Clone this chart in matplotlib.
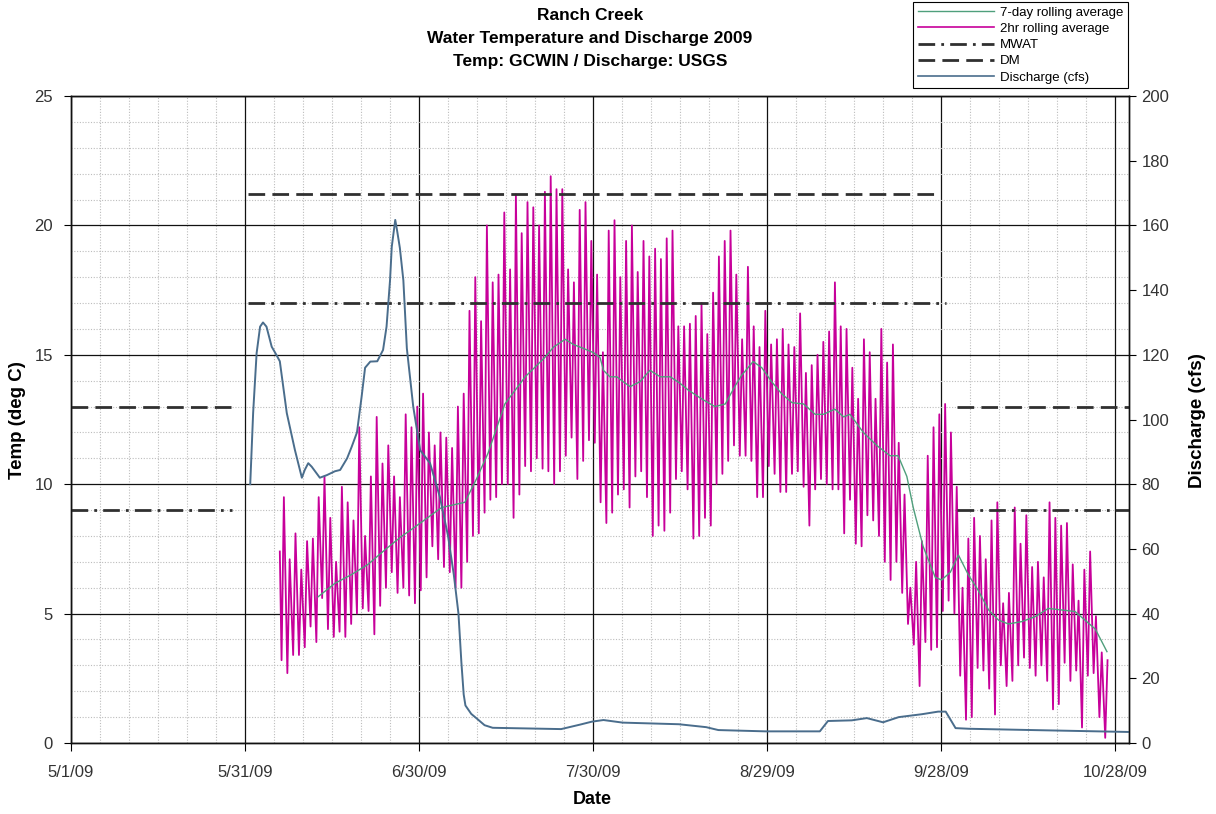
import numpy as np
import pandas as pd
import matplotlib
matplotlib.use('Agg')
import matplotlib.pyplot as plt
from matplotlib.lines import Line2D

plt.rcParams['font.family'] = ['Liberation Sans', 'DejaVu Sans']

base = pd.Timestamp('2009-05-01')

# 2hr rolling average, read as one morning low and one afternoon high per day from 6/6/09
first_day = 36  # days after 5/1/09
start_temp = 7.4
daily_low = [3.2, 2.7, 3.4, 3.4, 3.7, 4.5, 3.9, 5.6, 4.4, 4.1, 4.3, 4.1, 4.6, 5.0, 5.2, 5.1, 4.2, 5.3, 6.0, 6.6, 5.8, 6.0,
             5.7, 5.4, 5.9, 6.4, 7.6, 7.1, 6.8, 6.6, 6.0, 6.0, 7.0, 8.0, 8.1, 8.9, 9.4, 9.5, 10.0, 10.0, 8.7, 9.6, 10.7, 10.5, 11.0, 10.6,
             10.5, 10.0, 10.5, 11.1, 11.8, 10.2, 10.9, 11.7, 11.6, 9.3, 8.5, 8.9, 9.6, 9.8, 9.1, 10.3, 10.5, 9.5, 8.0, 8.4, 8.2, 8.9, 10.2,
             10.5, 9.8, 7.9, 8.0, 8.7, 8.4, 10.0, 10.4, 10.9, 11.5, 11.1, 11.1, 10.9, 9.5, 9.5, 10.7, 10.4, 9.7, 9.7, 10.4, 10.5, 9.9, 8.4,
             9.8, 10.2, 10.0, 9.8, 9.8, 8.1, 9.4, 7.7, 7.6, 8.8, 8.6, 8.0, 7.0, 6.3, 7.0, 5.8, 4.6, 3.8, 2.2, 3.9, 3.6, 3.7, 5.1,
             5.5, 5.0, 2.6, 0.9, 1.0, 2.9, 2.8, 2.1, 1.1, 3.0, 2.2, 2.4, 3.0, 3.3, 2.9, 2.6, 3.0, 2.4, 1.3, 1.5, 3.1, 2.4, 2.8, 0.6,
             2.6, 2.7, 1.0, 0.2]
daily_high = [9.5, 7.1, 8.1, 6.7, 7.8, 7.9, 9.5, 10.3, 8.7, 7.0, 9.9, 9.3, 8.6, 12.2, 8.0, 10.3, 12.6, 10.8, 11.5, 10.3, 9.5, 12.7,
              12.2, 13.0, 13.5, 12.0, 11.5, 12.0, 11.8, 11.4, 13.0, 13.5, 16.7, 18.0, 16.3, 20.0, 17.8, 18.1, 20.5, 18.3, 21.2, 19.7, 20.9, 20.7, 20.0, 21.3,
              21.9, 21.4, 21.4, 18.3, 17.8, 20.6, 20.9, 19.4, 18.1, 15.1, 19.8, 20.2, 18.0, 19.4, 20.0, 18.2, 19.4, 18.8, 19.1, 18.7, 19.5, 19.8, 16.1,
              16.1, 16.2, 16.5, 17.0, 15.8, 17.4, 18.8, 19.4, 19.8, 18.1, 15.6, 18.4, 16.1, 15.3, 16.7, 15.4, 15.6, 16.0, 15.4, 15.3, 16.6, 14.3, 14.6,
              15.0, 15.5, 15.9, 17.8, 16.1, 16.0, 14.5, 13.3, 15.6, 15.1, 13.3, 16.0, 14.7, 15.4, 11.6, 9.6, 6.0, 7.0, 7.8, 11.1, 12.2, 12.7, 13.1,
              12.0, 9.9, 6.0, 7.9, 8.7, 8.0, 7.1, 8.6, 9.3, 5.4, 5.8, 9.1, 7.7, 8.8, 6.8, 7.0, 6.4, 9.3, 8.7, 8.4, 8.5, 6.9, 5.5, 6.7,
              7.4, 4.9, 3.5, 3.2]

# 7-day rolling average (days after 5/1/09, deg C)
avg7_day = [42.6, 45.5, 48.3, 51.2, 54.1, 56.9, 59.0, 63.9, 67.9, 69.9, 71.9, 74.8, 78.3, 81.7, 83.2, 85.2, 86.6, 88.3,
            90.1, 91.2, 91.8, 92.9, 94.1, 95.2, 96.4, 98.1, 99.8, 101.6, 103.3, 105.0, 106.4, 108.7, 111.0, 112.8, 114.5,
            115.6, 117.6, 119.1, 120.8, 122.5, 124.3, 126.3, 128.3, 129.7, 131.7, 133.2, 134.3, 136.6, 138.9, 141.2, 142.6,
            144.1, 145.2, 146.9, 149.0, 150.1, 151.6, 153.0, 154.7, 156.4, 158.2, 159.9, 161.6, 163.9, 166.2, 168.5, 170.8,
            173.1, 174.8, 176.6, 178.6]
avg7_temp = [5.65, 6.17, 6.5, 6.9, 7.46, 7.97, 8.3, 9.1, 9.3, 10.2, 11.2, 13.1, 14.15, 14.9, 15.3, 15.6, 15.4, 15.25,
             15.08, 14.9, 14.4, 14.15, 14.15, 13.96, 13.77, 13.96, 14.4, 14.15, 14.15, 13.9, 13.64, 13.3, 13.0, 13.1, 13.8,
             14.2, 14.74, 14.5, 13.96, 13.5, 13.15, 13.1, 12.7, 12.7, 12.9, 12.6, 12.7, 12.0, 11.5, 11.1, 11.1,
             10.3, 9.1, 7.6, 6.4, 6.3, 6.6, 7.26, 6.5, 5.9, 5.14, 4.75, 4.6, 4.69, 4.88, 5.2, 5.14,
             5.08, 4.75, 4.4, 3.53]

# USGS discharge (days after 5/1/09, cfs)
q_day = [30.9, 31.4, 32.0, 32.6, 33.1, 33.7, 34.6, 35.4, 36.0, 37.2, 38.6, 39.8, 40.3, 40.9, 41.5, 42.9, 44.1, 45.5,
         46.4, 47.6, 48.4, 49.3, 50.1, 50.7, 51.6, 52.8, 53.8, 54.4, 55.0, 55.3, 55.9, 56.2, 56.7, 57.3, 57.9, 59.0,
         60.2, 61.9, 63.6, 65.0, 66.0, 66.8, 67.3, 67.7, 68.0, 69.0, 70.0, 71.3, 72.7, 84.5, 87.8, 89.8, 91.8, 95.1,
         104.8, 109.5, 111.6, 119.7, 129.1, 130.5, 134.6, 137.2, 140.0, 142.7, 146.7, 149.5, 150.8, 152.5, 154.8,
         165.7, 182.6]
q_cfs = [80, 102, 120.5, 128.7, 130, 128.7, 122.5, 120, 118, 102, 90.6, 82, 84.4, 86.5, 85.4, 82, 82.8, 84,
         84.4, 88, 91.6, 96, 107, 116, 117.9, 118, 121.5, 128.7, 143, 153.4, 161.7, 158.6, 153, 143, 122, 104,
         90.5, 86.5, 76, 64, 52, 40, 25, 15, 11.6, 9, 7.5, 5.5, 4.7, 4.3, 5.7, 6.6, 7.1, 6.3,
         5.8, 4.9, 4.0, 3.6, 3.6, 6.8, 7.0, 7.7, 6.4, 8.0, 8.9, 9.7, 9.7, 4.6, 4.4,
         4.0, 3.4]

# standards: (start day, end day, deg C)
mwat = [(0, 27.8, 9), (30.5, 150.8, 17), (152.8, 182.4, 9)]
dm = [(0, 27.8, 13), (30.5, 149.8, 21.2), (152.8, 182.4, 13)]

tick_labels = ['5/1/09', '5/31/09', '6/30/09', '7/30/09', '8/29/09', '9/28/09', '10/28/09']


def to_date(days):
    return base + pd.to_timedelta(np.asarray(days, dtype=float), unit='D')


# build the 2hr series from the daily low / high pairs
t2 = [first_day]
v2 = [start_temp]
for k, (lo, hi) in enumerate(zip(daily_low, daily_high)):
    t2 += [first_day + k + 0.3, first_day + k + 0.7]
    v2 += [lo, hi]

magenta = '#c7009a'
green = '#4f9f7c'
blue = '#4a6d8c'
dark = '#303030'
mwat_ls = (0, (6, 2.2, 1, 2.2))
dm_ls = (0, (6, 2.6))

fig = plt.figure(figsize=(12.16, 8.14), dpi=100)
ax = fig.add_axes([71 / 1216, 1 - 743 / 814, (1129 - 71) / 1216, (743 - 96) / 814])
ax2 = ax.twinx()

# grid
ax.set_ylim(0, 25)
ax.set_yticks(range(0, 26, 5))
ax.set_yticks(range(0, 26), minor=True)
major_x = to_date([30 * i for i in range(len(tick_labels))])
minor_x = to_date([d for d in range(0, 183, 5) if d % 30 != 0])
ax.set_xticks(major_x)
ax.set_xticklabels(tick_labels)
ax.set_xticks(minor_x, minor=True)
ax.set_xlim(to_date([0])[0], to_date([182.4])[0])
ax.grid(which='major', color='#111111', lw=0.9)
ax.grid(which='minor', color='#bdbdbd', lw=0.8, ls=(0, (1, 1.5)))
ax.set_axisbelow(True)

# series
ax.plot(to_date(t2), v2, color=magenta, lw=1.3, zorder=3)
ax.plot(to_date(avg7_day), avg7_temp, color=green, lw=1.0, zorder=4)
for d0, d1, v in mwat:
    ax.plot(to_date([d0, d1]), [v, v], color=dark, lw=2, ls=mwat_ls, zorder=5)
for d0, d1, v in dm:
    ax.plot(to_date([d0, d1]), [v, v], color=dark, lw=2, ls=dm_ls, zorder=5)

ax2.plot(to_date(q_day), q_cfs, color=blue, lw=1.4)
ax2.set_ylim(0, 200)
ax2.set_yticks(range(0, 201, 20))

# ticks and spines
ax.tick_params(axis='y', which='major', direction='out', length=5, pad=8, labelsize=12, labelcolor='#333333')
ax.tick_params(axis='x', which='major', direction='out', length=6, pad=10, labelsize=12, labelcolor='#333333')
ax.tick_params(which='minor', length=0)
ax2.tick_params(axis='y', direction='out', length=5, pad=4, labelsize=12, labelcolor='#333333')
for a in (ax, ax2):
    for s in a.spines.values():
        s.set_color('#111111')
        s.set_linewidth(1)

# text
fig.text(590 / 1216, 1 - 8 / 814, 'Ranch Creek\nWater Temperature and Discharge 2009\nTemp: GCWIN / Discharge: USGS',
         ha='center', va='top', fontsize=12.5, fontweight='bold', linespacing=1.68)
fig.text(18 / 1216, 1 - 420 / 814, 'Temp (deg C)', rotation=90, ha='center', va='center',
         fontsize=13.5, fontweight='bold')
fig.text(1197 / 1216, 1 - 421 / 814, 'Discharge (cfs)', rotation=90, ha='center', va='center',
         fontsize=13.5, fontweight='bold')
fig.text(592 / 1216, 1 - 800 / 814, 'Date', ha='center', va='center', fontsize=13, fontweight='bold')

# legend
handles = [
    Line2D([], [], color=green, lw=1.0),
    Line2D([], [], color=magenta, lw=1.2),
    Line2D([], [], color=dark, lw=2, ls=mwat_ls),
    Line2D([], [], color=dark, lw=2, ls=dm_ls),
    Line2D([], [], color=blue, lw=1.2),
]
labels = ['7-day rolling average', '2hr rolling average', 'MWAT', 'DM', 'Discharge (cfs)']
leg = fig.legend(handles, labels, loc='upper right', bbox_to_anchor=(1128 / 1216, 1 - 2 / 814),
                 frameon=True, fancybox=False, edgecolor='black', framealpha=1, fontsize=9.5,
                 handlelength=5.8, handletextpad=0.45, borderpad=0.35, labelspacing=0.3, borderaxespad=0)
leg.get_frame().set_linewidth(0.8)

fig.savefig('out.png', dpi=100)
